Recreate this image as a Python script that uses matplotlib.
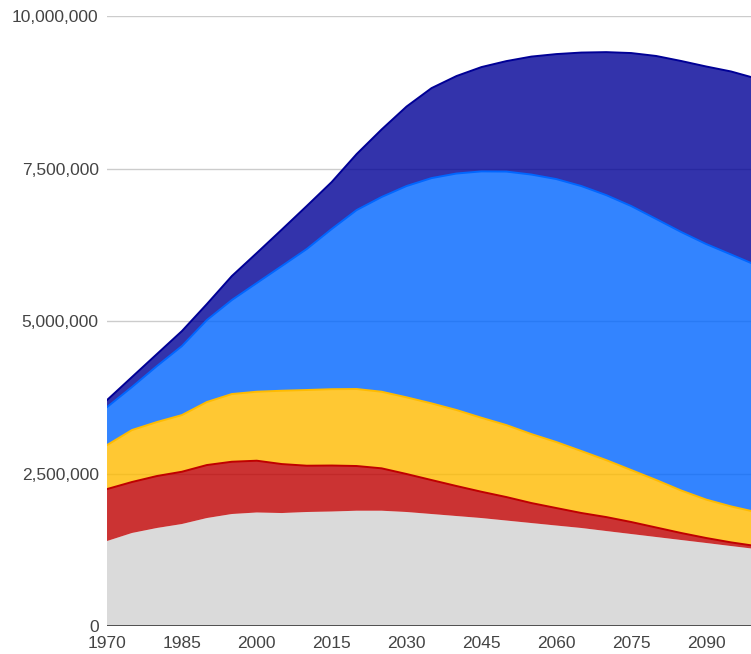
import matplotlib
matplotlib.use("Agg")
import matplotlib.pyplot as plt
import matplotlib.ticker as mtick
import numpy as np

plt.rcParams['font.family'] = ['Liberation Sans', 'DejaVu Sans']

years = [1970, 1975, 1980, 1985, 1990, 1995, 2000, 2005, 2010, 2015, 2020,
         2025, 2030, 2035, 2040, 2045, 2050, 2055, 2060, 2065, 2070, 2075,
         2080, 2085, 2090, 2095, 2100]

# layers, bottom to top
gray = [1393000, 1525000, 1607000, 1672000, 1770000, 1836000, 1861000,
        1852000, 1869000, 1877000, 1890000, 1890000, 1869000, 1836000,
        1803000, 1770000, 1729000, 1688000, 1647000, 1607000, 1557000,
        1508000, 1459000, 1410000, 1361000, 1311000, 1262000]
red = [852000, 836000, 852000, 857000, 869000, 857000, 849000, 803000,
       759000, 754000, 733000, 695000, 623000, 557000, 492000, 431000,
       385000, 328000, 287000, 246000, 229000, 197000, 156000, 115000,
       82000, 60000, 49000]
yellow = [721000, 852000, 885000, 929000, 1033000, 1110000, 1131000,
          1202000, 1241000, 1251000, 1262000, 1256000, 1257000, 1257000,
          1246000, 1213000, 1180000, 1131000, 1082000, 1016000, 934000,
          852000, 779000, 697000, 630000, 590000, 557000]
blue = [623000, 705000, 918000, 1131000, 1344000, 1541000, 1782000,
        2044000, 2311000, 2626000, 2934000, 3192000, 3464000, 3693000,
        3877000, 4039000, 4156000, 4254000, 4311000, 4344000, 4344000,
        4328000, 4279000, 4238000, 4190000, 4130000, 4049000]
navy = [115000, 164000, 197000, 246000, 262000, 393000, 492000, 597000,
        705000, 770000, 918000, 1107000, 1303000, 1475000, 1598000,
        1710000, 1811000, 1934000, 2049000, 2188000, 2344000, 2508000,
        2672000, 2803000, 2910000, 3000000, 3060000]

y_ticks = [0, 2500000, 5000000, 7500000, 10000000]
x_ticks = [1970, 1985, 2000, 2015, 2030, 2045, 2060, 2075, 2090]

fills = ['#d1d1d1', '#bf0000', '#ffbb00', '#0066ff', '#000096']
lines = [None, '#bf0000', '#ffbb00', '#0066ff', '#000096']

fig = plt.figure(figsize=(7.51, 6.54), dpi=100)
ax = fig.add_axes([0.1425, 0.0428, 0.8575, 0.9327])

for v in y_ticks[1:]:
    ax.axhline(v, color='#cccccc', lw=1, zorder=0)

layers = [gray, red, yellow, blue, navy]
ax.stackplot(years, *layers, colors=fills, alpha=0.8, lw=0, zorder=1)

tops = np.cumsum(np.array(layers), axis=0)
for top, c in zip(tops, lines):
    if c:
        ax.plot(years, top, color=c, lw=1.4, zorder=2)

ax.axhline(0, color='#444444', lw=1.3, zorder=3)

ax.set_xlim(1970, 2099)
ax.set_ylim(0, 10000000)
ax.set_xticks(x_ticks)
ax.set_yticks(y_ticks)
ax.yaxis.set_major_formatter(mtick.StrMethodFormatter('{x:,.0f}'))
for s in ax.spines.values():
    s.set_visible(False)
ax.tick_params(length=0, labelsize=12.5, colors='#444444')
ax.tick_params(axis='x', pad=7.5)
ax.tick_params(axis='y', pad=6)

fig.savefig('out.png', dpi=100)
